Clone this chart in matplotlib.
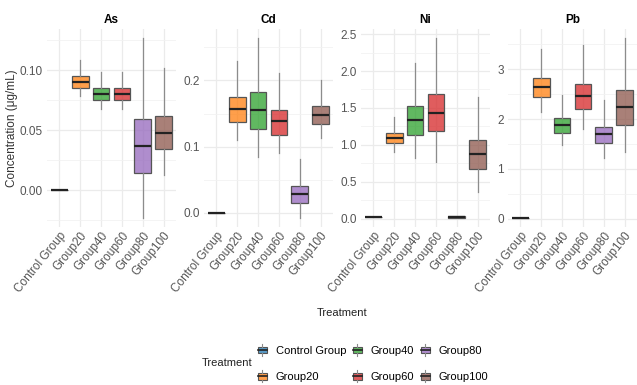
import matplotlib
matplotlib.use('Agg')
import matplotlib.pyplot as plt
from matplotlib.ticker import MultipleLocator, FormatStrFormatter
from matplotlib.legend_handler import HandlerBase
from matplotlib.patches import Rectangle, Patch
from matplotlib.lines import Line2D
from matplotlib.colors import to_rgba

plt.rcParams['font.family'] = ['Liberation Sans', 'DejaVu Sans']

groups = ['Control Group', 'Group20', 'Group40', 'Group60', 'Group80', 'Group100']
metals = ['As', 'Cd', 'Ni', 'Pb']
colors = ['#1f77b4', '#ff7f0e', '#2ca02c', '#d62728', '#9467bd', '#8c564b']

# box stats: low whisker, q1, median, q3, high whisker
as_lo = [0, 0.078, 0.068, 0.068, -0.023, 0.013]
as_q1 = [0, 0.085, 0.075, 0.075, 0.014, 0.034]
as_med = [0, 0.090, 0.080, 0.080, 0.037, 0.048]
as_q3 = [0, 0.095, 0.085, 0.085, 0.059, 0.062]
as_hi = [0, 0.108, 0.098, 0.098, 0.127, 0.102]

cd_lo = [0, 0.110, 0.084, 0.090, -0.008, 0.113]
cd_q1 = [0, 0.137, 0.127, 0.118, 0.014, 0.134]
cd_med = [0, 0.157, 0.156, 0.138, 0.028, 0.148]
cd_q3 = [0, 0.175, 0.183, 0.156, 0.040, 0.162]
cd_hi = [0, 0.230, 0.265, 0.211, 0.081, 0.201]

ni_lo = [0.02, 0.907, 0.821, 0.775, 0.012, 0.361]
ni_q1 = [0.02, 1.02, 1.137, 1.186, 0.015, 0.672]
ni_med = [0.02, 1.096, 1.335, 1.438, 0.025, 0.884]
ni_q3 = [0.02, 1.16, 1.525, 1.687, 0.032, 1.073]
ni_hi = [0.02, 1.376, 2.115, 2.453, 0.035, 1.647]

pb_lo = [0.02, 2.15, 1.47, 1.79, 1.22, 1.34]
pb_q1 = [0.02, 2.45, 1.71, 2.21, 1.51, 1.89]
pb_med = [0.02, 2.65, 1.88, 2.47, 1.69, 2.25]
pb_q3 = [0.02, 2.83, 2.03, 2.71, 1.85, 2.59]
pb_hi = [0.02, 3.41, 2.49, 3.49, 2.39, 3.63]

data = {
    'As': (as_lo, as_q1, as_med, as_q3, as_hi),
    'Cd': (cd_lo, cd_q1, cd_med, cd_q3, cd_hi),
    'Ni': (ni_lo, ni_q1, ni_med, ni_q3, ni_hi),
    'Pb': (pb_lo, pb_q1, pb_med, pb_q3, pb_hi),
}
major = {'As': 0.05, 'Cd': 0.1, 'Ni': 0.5, 'Pb': 1}
fmt = {'As': '%.2f', 'Cd': '%.1f', 'Ni': '%.1f', 'Pb': '%.0f'}

ALPHA = 0.75
TXT = '#555555'
W, H = 637, 385
fig = plt.figure(figsize=(W / 100, H / 100), dpi=100)

lefts = [47, 204, 361, 508]
pw = 129
bottom, top = 227, 28.5

for m, lx in zip(metals, lefts):
    ax = fig.add_axes([lx / W, 1 - bottom / H, pw / W, (bottom - top) / H])
    lo, q1, med, q3, hi = data[m]
    stats = []
    for i in range(len(groups)):
        stats.append({'whislo': lo[i], 'q1': q1[i], 'med': med[i],
                      'q3': q3[i], 'whishi': hi[i], 'fliers': []})
    pos = list(range(1, len(groups) + 1))
    b = ax.bxp(stats, positions=pos, widths=0.8, patch_artist=True,
               showfliers=False, showcaps=False,
               boxprops=dict(edgecolor='#555555', linewidth=0.9),
               whiskerprops=dict(color='#8c8c8c', linewidth=0.9),
               medianprops=dict(color='#222222', linewidth=1.6))
    for patch, c in zip(b['boxes'], colors):
        patch.set_facecolor(to_rgba(c, ALPHA))
    span = max(hi) - min(lo)
    ax.set_ylim(min(lo) - 0.05 * span, max(hi) + 0.05 * span)
    ax.set_xlim(0.4, len(groups) + 0.6)
    ax.yaxis.set_major_locator(MultipleLocator(major[m]))
    ax.yaxis.set_minor_locator(MultipleLocator(major[m] / 2))
    ax.yaxis.set_major_formatter(FormatStrFormatter(fmt[m]))
    ax.set_xticks(pos)
    ax.set_xticklabels(groups, rotation=51, ha='right', va='top',
                       rotation_mode='anchor', fontsize=8.5, color=TXT)
    ax.tick_params(which='both', length=0)
    ax.tick_params(axis='y', labelsize=8.5, labelcolor=TXT, pad=3)
    ax.tick_params(axis='x', pad=2)
    ax.grid(which='major', color='#ebebeb', linewidth=0.9)
    ax.grid(which='minor', axis='y', color='#f2f2f2', linewidth=0.6)
    ax.set_axisbelow(True)
    for s in ax.spines.values():
        s.set_visible(False)
    ax.set_title(m, fontsize=8.5, fontweight='bold', pad=4)

fig.text(12 / W, 1 - 128 / H, 'Concentration (μg/mL)', rotation=90,
         ha='center', va='center', fontsize=8.5, color='#333333')
fig.text(342 / W, 1 - 313 / H, 'Treatment', ha='center', va='center',
         fontsize=8, color='#222222')


class BoxKey(HandlerBase):
    def create_artists(self, legend, orig, xd, yd, width, height, fontsize, trans):
        x0, y0 = -xd, -yd
        xm = x0 + width / 2
        rect = Rectangle((x0, y0 + 0.2 * height), width, 0.6 * height,
                         facecolor=orig.get_facecolor(), edgecolor='#555555',
                         linewidth=0.8, transform=trans)
        mid = Line2D([x0, x0 + width], [y0 + 0.5 * height] * 2,
                     color='#222222', linewidth=1.2, transform=trans)
        wt = Line2D([xm, xm], [y0 + 0.8 * height, y0 + 1.05 * height],
                    color='#8c8c8c', linewidth=0.8, transform=trans)
        wb = Line2D([xm, xm], [y0 - 0.05 * height, y0 + 0.2 * height],
                    color='#8c8c8c', linewidth=0.8, transform=trans)
        return [rect, mid, wt, wb]


handles = [Patch(facecolor=to_rgba(c, ALPHA)) for c in colors]
fig.legend(handles, groups, ncol=3, loc='center left',
           bbox_to_anchor=(258 / W, 1 - 363.5 / H), frameon=False,
           handler_map={Patch: BoxKey()}, fontsize=8,
           handlelength=0.8, handleheight=1.1, handletextpad=0.8,
           columnspacing=0.6, labelspacing=1.35, borderpad=0, borderaxespad=0)
fig.text(252 / W, 1 - 363 / H, 'Treatment', ha='right', va='center',
         fontsize=8, color='#222222')

fig.savefig('out.png', dpi=100)
